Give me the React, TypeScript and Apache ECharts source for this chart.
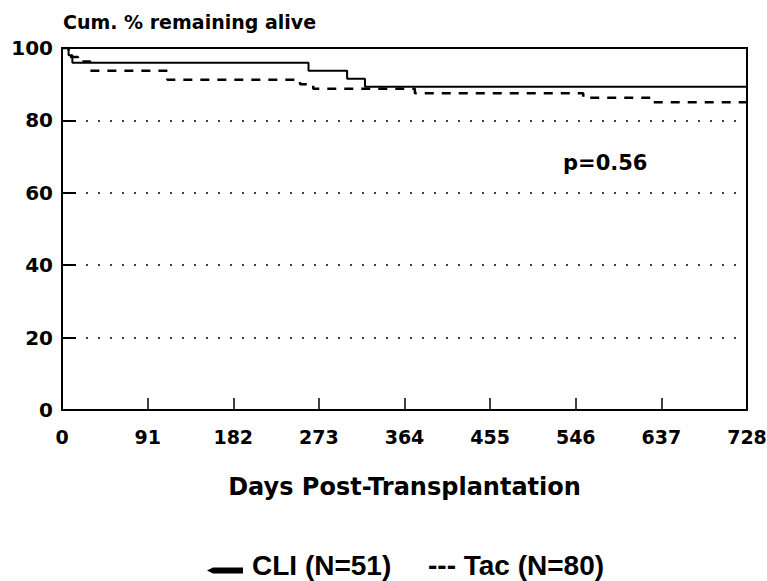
import React, { useEffect, useRef } from "react";
import * as echarts from "echarts";

// ---- data ----
const xTickValues = [0, 91, 182, 273, 364, 455, 546, 637, 728];
const yTickValues = [0, 20, 40, 60, 80, 100];

const cliDays = [0, 7, 11, 262, 303, 322, 728];
const cliSurvival = [100, 98.0, 95.9, 93.7, 91.5, 89.3, 89.3];

const tacDays = [0, 7, 17, 30, 112, 253, 267, 375, 554, 628, 728];
const tacSurvival = [100, 97.5, 96.25, 93.75, 91.25, 90, 88.75, 87.5, 86.25, 85, 85];

const cliLabel = "CLI (N=51)";
const tacLabel = "Tac (N=80)";
const pValueLabel = "p=0.56";
const yTitle = "Cum. % remaining alive";
const xTitle = "Days Post-Transplantation";

const W = 767;
const H = 581;

export default function App() {
  const ref = useRef<HTMLDivElement>(null);

  useEffect(() => {
    document.body.style.margin = "0";
    if (!ref.current) return;
    const chart = echarts.init(ref.current, undefined, { renderer: "svg" });

    const cliData = cliDays.map((d, i) => [d, cliSurvival[i]]);
    const tacData = tacDays.map((d, i) => [d, tacSurvival[i]]);

    const tickFont = {
      fontFamily: "DejaVu Sans",
      fontWeight: "bold" as const,
      color: "#000",
    };

    chart.setOption({
      animation: false,
      backgroundColor: "#fff",
      title: {
        text: yTitle,
        left: 63,
        top: 12,
        padding: 0,
        textStyle: {
          fontFamily: "DejaVu Sans",
          fontWeight: "bold",
          fontSize: 19,
          color: "#000",
        },
      },
      grid: {
        left: 62,
        top: 48,
        right: 20,
        bottom: 171,
        containLabel: false,
        outerBoundsMode: "none",
        show: true,
        borderColor: "#000",
        borderWidth: 2,
        backgroundColor: "transparent",
      },
      xAxis: {
        type: "value",
        min: xTickValues[0],
        max: xTickValues[xTickValues.length - 1],
        interval: xTickValues[1] - xTickValues[0],
        name: xTitle,
        nameLocation: "middle",
        nameGap: 65,
        nameTextStyle: {
          fontFamily: "DejaVu Sans",
          fontWeight: "bold",
          fontSize: 24,
          color: "#000",
        },
        axisLine: { show: true, onZero: false, lineStyle: { color: "#000", width: 2 } },
        axisTick: { show: true, inside: true, length: 12, lineStyle: { color: "#000", width: 1.5 } },
        axisLabel: { ...tickFont, fontSize: 19, margin: 17 },
        splitLine: { show: false },
      },
      yAxis: {
        type: "value",
        min: yTickValues[0],
        max: yTickValues[yTickValues.length - 1],
        interval: yTickValues[1] - yTickValues[0],
        axisLine: { show: true, onZero: false, lineStyle: { color: "#000", width: 2 } },
        axisTick: { show: true, inside: true, length: 14, lineStyle: { color: "#000", width: 2 } },
        axisLabel: { ...tickFont, fontSize: 20, margin: 9 },
        splitLine: {
          show: true,
          lineStyle: { color: "#000", width: 1.5, type: [2, 10] },
        },
      },
      series: [
        {
          name: cliLabel,
          type: "line",
          step: "end",
          data: cliData,
          showSymbol: false,
          symbol: "none",
          lineStyle: { color: "#000", width: 2, type: "solid" },
          z: 3,
        },
        {
          name: tacLabel,
          type: "line",
          step: "end",
          data: tacData,
          showSymbol: false,
          symbol: "none",
          lineStyle: { color: "#000", width: 2.5, type: [9, 8] },
          z: 3,
        },
      ],
      graphic: [
        {
          type: "text",
          left: 563,
          top: 152,
          style: {
            text: pValueLabel,
            fontFamily: "DejaVu Sans",
            fontWeight: "bold",
            fontSize: 21,
            fill: "#000",
          },
        },
        {
          type: "polygon",
          shape: {
            points: [
              [207, 570.5],
              [213, 567.5],
              [243, 567.5],
              [243, 573.5],
              [213, 573.5],
            ],
          },
          style: { fill: "#000" },
        },
        {
          type: "text",
          x: 252,
          y: 565,
          style: {
            text: cliLabel,
            fontFamily: "Liberation Sans",
            fontWeight: "bold",
            fontSize: 28,
            fill: "#000",
            verticalAlign: "middle",
          },
        },
        {
          type: "text",
          x: 428,
          y: 565,
          style: {
            text: "--- " + tacLabel,
            fontFamily: "Liberation Sans",
            fontWeight: "bold",
            fontSize: 28,
            fill: "#000",
            verticalAlign: "middle",
          },
        },
      ],
    });

    return () => chart.dispose();
  }, []);

  return (
    <div
      ref={ref}
      style={{ position: "fixed", left: 0, top: 0, width: W, height: H, background: "#fff" }}
    />
  );
}
